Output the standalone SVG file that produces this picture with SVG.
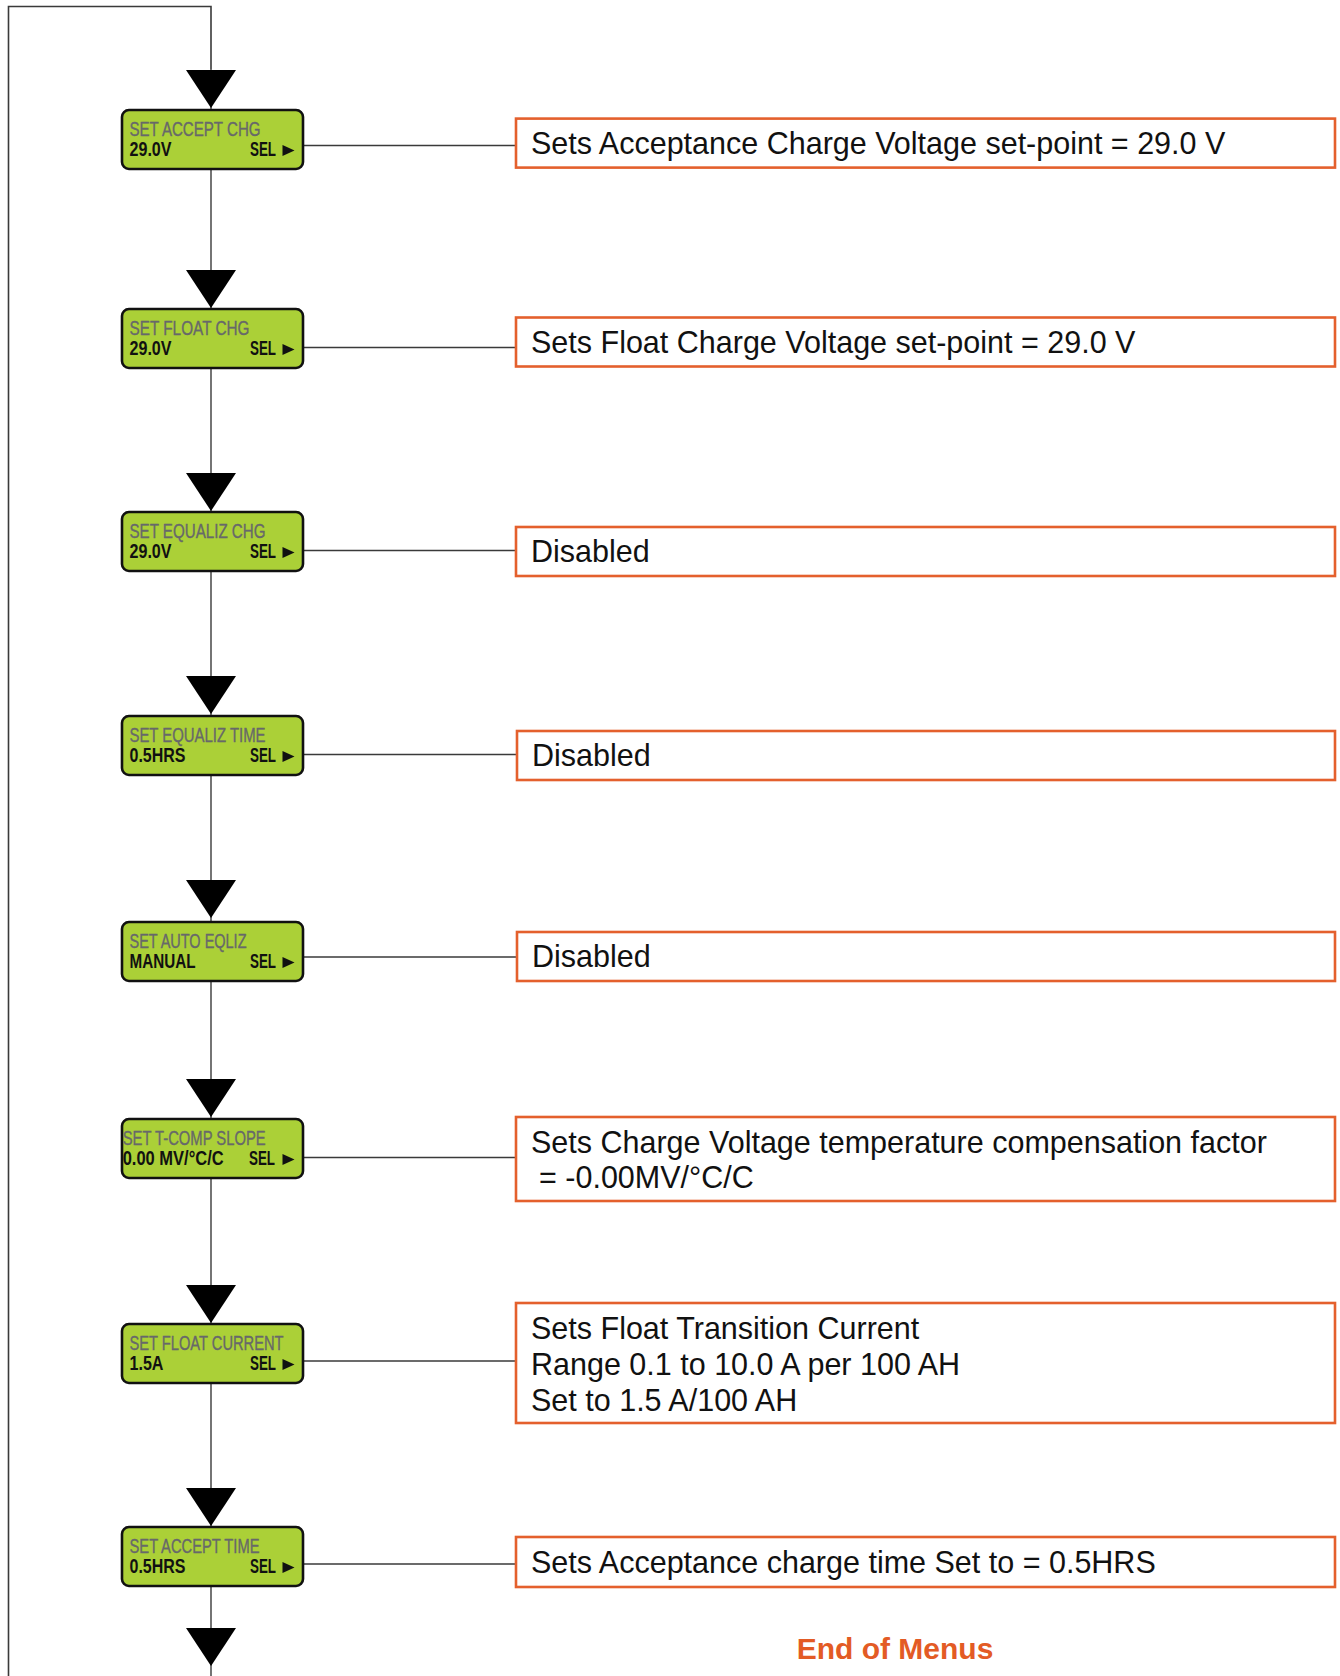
<svg xmlns="http://www.w3.org/2000/svg" width="1340" height="1676" viewBox="0 0 1340 1676">
  <style>
    .wire { fill: none; stroke: #3a3a3a; stroke-width: 1.4; }
    .loop { fill: none; stroke: #3a3a3a; stroke-width: 1.6; }
    .lcd { fill: #abd037; stroke: #111; stroke-width: 2.6; }
    .t1 { font-family: "Liberation Sans Narrow", "Liberation Sans", Arial, sans-serif; font-size: 20px; fill: #67686a; stroke: #67686a; stroke-width: 0.35; }
    .t2 { font-family: "Liberation Sans Narrow", "Liberation Sans", Arial, sans-serif; font-size: 20px; font-weight: bold; fill: #111; }
    .note { fill: #fff; stroke: #e4602d; stroke-width: 2.6; }
    .nt { font-family: "Liberation Sans", Arial, sans-serif; font-size: 30.5px; fill: #111; }
    .end { font-family: "Liberation Sans", Arial, sans-serif; font-size: 30px; font-weight: bold; fill: #e35b25; }
  </style>
  <defs>
    <path id="arrow" d="M-25,0 L25,0 L0,38 Z" fill="#000"/>
    <path id="sel" d="M160.5,35 L172.5,40.5 L160.5,46 Z" fill="#111"/>
  </defs>

  <!-- flow lines, return loop and arrowheads -->
  <g id="connectors">
    <polyline class="loop" points="8.5,1676 8.5,6.5 211,6.5 211,69"/>
    <line class="wire" x1="211" y1="69" x2="211" y2="1676"/>
    <line class="wire" x1="303" y1="145.5" x2="516" y2="145.5"/>
    <line class="wire" x1="303" y1="347.5" x2="516" y2="347.5"/>
    <line class="wire" x1="303" y1="550.5" x2="516" y2="550.5"/>
    <line class="wire" x1="303" y1="754.5" x2="517" y2="754.5"/>
    <line class="wire" x1="303" y1="957" x2="517" y2="957"/>
    <line class="wire" x1="303" y1="1157.5" x2="516" y2="1157.5"/>
    <line class="wire" x1="303" y1="1361" x2="516" y2="1361"/>
    <line class="wire" x1="303" y1="1564" x2="516" y2="1564"/>
    <use href="#arrow" x="211" y="70"/>
    <use href="#arrow" x="211" y="270"/>
    <use href="#arrow" x="211" y="473"/>
    <use href="#arrow" x="211" y="676"/>
    <use href="#arrow" x="211" y="880"/>
    <use href="#arrow" x="211" y="1079"/>
    <use href="#arrow" x="211" y="1285"/>
    <use href="#arrow" x="211" y="1488"/>
    <use href="#arrow" x="211" y="1628"/>
  </g>

  <!-- LCD menu screens -->
  <g id="menu-accept-chg" transform="translate(122,110)">
    <rect class="lcd" width="181" height="59" rx="7"/>
    <text class="t1" x="7.5" y="26" textLength="131" lengthAdjust="spacingAndGlyphs">SET ACCEPT CHG</text>
    <text class="t2" x="7.5" y="45.5" textLength="42" lengthAdjust="spacingAndGlyphs">29.0V</text>
    <text class="t2" x="128" y="45.5" textLength="26" lengthAdjust="spacingAndGlyphs">SEL</text>
    <use href="#sel"/>
  </g>
  <g id="menu-float-chg" transform="translate(122,309)">
    <rect class="lcd" width="181" height="59" rx="7"/>
    <text class="t1" x="7.5" y="26" textLength="120" lengthAdjust="spacingAndGlyphs">SET FLOAT CHG</text>
    <text class="t2" x="7.5" y="45.5" textLength="42" lengthAdjust="spacingAndGlyphs">29.0V</text>
    <text class="t2" x="128" y="45.5" textLength="26" lengthAdjust="spacingAndGlyphs">SEL</text>
    <use href="#sel"/>
  </g>
  <g id="menu-equaliz-chg" transform="translate(122,512)">
    <rect class="lcd" width="181" height="59" rx="7"/>
    <text class="t1" x="7.5" y="26" textLength="136" lengthAdjust="spacingAndGlyphs">SET EQUALIZ CHG</text>
    <text class="t2" x="7.5" y="45.5" textLength="42" lengthAdjust="spacingAndGlyphs">29.0V</text>
    <text class="t2" x="128" y="45.5" textLength="26" lengthAdjust="spacingAndGlyphs">SEL</text>
    <use href="#sel"/>
  </g>
  <g id="menu-equaliz-time" transform="translate(122,716)">
    <rect class="lcd" width="181" height="59" rx="7"/>
    <text class="t1" x="7.5" y="26" textLength="136" lengthAdjust="spacingAndGlyphs">SET EQUALIZ TIME</text>
    <text class="t2" x="7.5" y="45.5" textLength="56" lengthAdjust="spacingAndGlyphs">0.5HRS</text>
    <text class="t2" x="128" y="45.5" textLength="26" lengthAdjust="spacingAndGlyphs">SEL</text>
    <use href="#sel"/>
  </g>
  <g id="menu-auto-eqliz" transform="translate(122,922)">
    <rect class="lcd" width="181" height="59" rx="7"/>
    <text class="t1" x="7.5" y="26" textLength="117" lengthAdjust="spacingAndGlyphs">SET AUTO EQLIZ</text>
    <text class="t2" x="7.5" y="45.5" textLength="66" lengthAdjust="spacingAndGlyphs">MANUAL</text>
    <text class="t2" x="128" y="45.5" textLength="26" lengthAdjust="spacingAndGlyphs">SEL</text>
    <use href="#sel"/>
  </g>
  <g id="menu-tcomp-slope" transform="translate(122,1119)">
    <rect class="lcd" width="181" height="59" rx="7"/>
    <text class="t1" x="0.7" y="26" textLength="143" lengthAdjust="spacingAndGlyphs">SET T-COMP SLOPE</text>
    <text class="t2" x="0.7" y="45.5" textLength="101" lengthAdjust="spacingAndGlyphs">0.00 MV/°C/C</text>
    <text class="t2" x="127" y="45.5" textLength="26" lengthAdjust="spacingAndGlyphs">SEL</text>
    <use href="#sel"/>
  </g>
  <g id="menu-float-current" transform="translate(122,1324)">
    <rect class="lcd" width="181" height="59" rx="7"/>
    <text class="t1" x="7.5" y="26" textLength="154" lengthAdjust="spacingAndGlyphs">SET FLOAT CURRENT</text>
    <text class="t2" x="7.5" y="45.5" textLength="34" lengthAdjust="spacingAndGlyphs">1.5A</text>
    <text class="t2" x="128" y="45.5" textLength="26" lengthAdjust="spacingAndGlyphs">SEL</text>
    <use href="#sel"/>
  </g>
  <g id="menu-accept-time" transform="translate(122,1527)">
    <rect class="lcd" width="181" height="59" rx="7"/>
    <text class="t1" x="7.5" y="26" textLength="130" lengthAdjust="spacingAndGlyphs">SET ACCEPT TIME</text>
    <text class="t2" x="7.5" y="45.5" textLength="56" lengthAdjust="spacingAndGlyphs">0.5HRS</text>
    <text class="t2" x="128" y="45.5" textLength="26" lengthAdjust="spacingAndGlyphs">SEL</text>
    <use href="#sel"/>
  </g>

  <!-- setting descriptions -->
  <g id="note-accept-chg">
    <rect class="note" x="516" y="118.6" width="819" height="49"/>
    <text class="nt" x="531" y="154">Sets Acceptance Charge Voltage set-point = 29.0 V</text>
  </g>
  <g id="note-float-chg">
    <rect class="note" x="516" y="317.5" width="819" height="49"/>
    <text class="nt" x="531" y="353">Sets Float Charge Voltage set-point = 29.0 V</text>
  </g>
  <g id="note-equaliz-chg">
    <rect class="note" x="516" y="527" width="819" height="49"/>
    <text class="nt" x="531" y="562">Disabled</text>
  </g>
  <g id="note-equaliz-time">
    <rect class="note" x="517" y="731" width="818" height="49"/>
    <text class="nt" x="532" y="766">Disabled</text>
  </g>
  <g id="note-auto-eqliz">
    <rect class="note" x="517" y="932" width="818" height="49"/>
    <text class="nt" x="532" y="967">Disabled</text>
  </g>
  <g id="note-tcomp-slope">
    <rect class="note" x="516" y="1117" width="819" height="84"/>
    <text class="nt" x="531" y="1153">Sets Charge Voltage temperature compensation factor</text>
    <text class="nt" x="539" y="1188">= -0.00MV/°C/C</text>
  </g>
  <g id="note-float-current">
    <rect class="note" x="516" y="1303" width="819" height="120"/>
    <text class="nt" x="531" y="1339">Sets Float Transition Current</text>
    <text class="nt" x="531" y="1375">Range 0.1 to 10.0 A per 100 AH</text>
    <text class="nt" x="531" y="1411">Set to 1.5 A/100 AH</text>
  </g>
  <g id="note-accept-time">
    <rect class="note" x="516" y="1537" width="819" height="50"/>
    <text class="nt" x="531" y="1573">Sets Acceptance charge time Set to = 0.5HRS</text>
  </g>

  <text id="end-of-menus" class="end" x="895" y="1659" text-anchor="middle">End of Menus</text>
</svg>
